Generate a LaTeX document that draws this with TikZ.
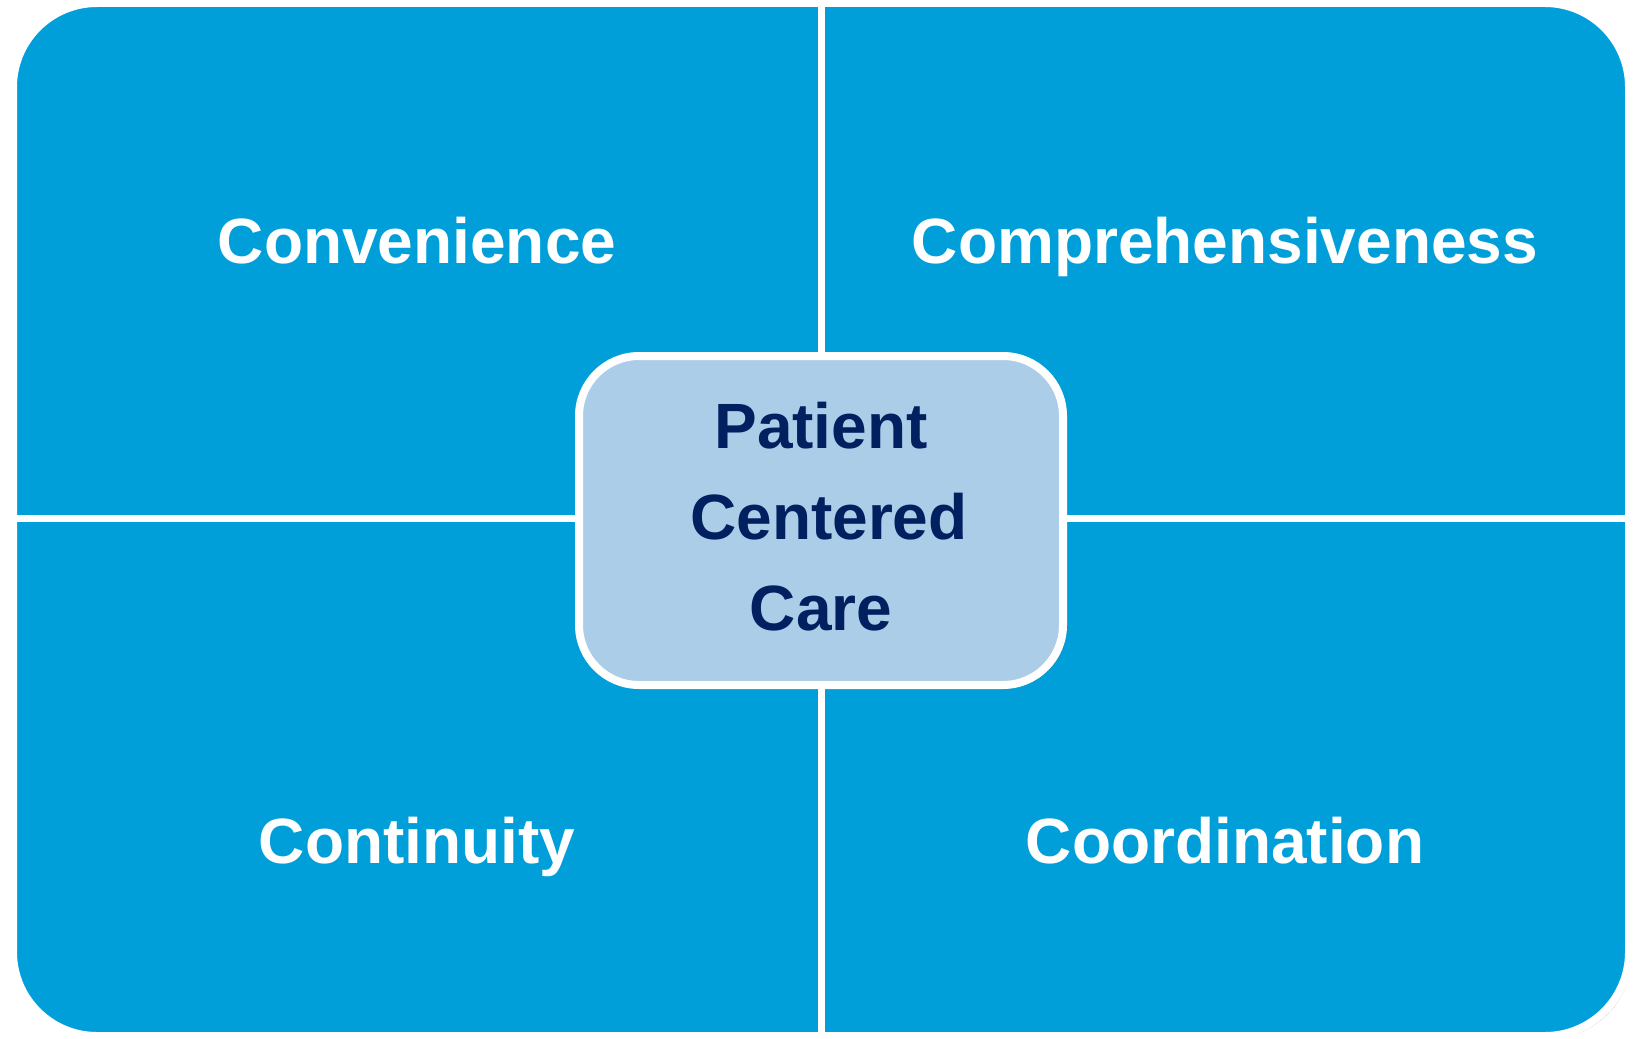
\documentclass[tikz,border=0pt]{standalone}
\usepackage{fontspec}
\setmainfont{Liberation Sans}
\usetikzlibrary{shadows}
\definecolor{quadblue}{HTML}{009FDA}
\definecolor{centerfill}{HTML}{ABCDE8}
\definecolor{navy}{HTML}{002060}
\tikzset{
  quadlabel/.style={text=white, font=\fontsize{32}{38}\selectfont\bfseries, inner sep=0pt, anchor=base},
  centerlabel/.style={text=navy, font=\fontsize{32}{45.5}\selectfont\bfseries, align=center, inner sep=0pt},
  divider/.style={draw=white, line width=3.5pt},
}
\begin{document}
\begin{tikzpicture}[x=0.5pt,y=-0.5pt]
\useasboundingbox (0,0) rectangle (1636,1038);
% outer matrix
\path[fill=quadblue, draw=white, line width=4pt, rounded corners=42pt,
      drop shadow={shadow xshift=1.5pt, shadow yshift=-1.5pt, opacity=0.25, fill=black}]
  (13,3) rectangle (1629,1036);
% dividers
\coordinate (vt) at (821,7);
\coordinate (vb) at (821,1032);
\coordinate (hl) at (17,518);
\coordinate (hr) at (1625,518);
\draw[divider] (vt) -- (vb);
\draw[divider] (hl) -- (hr);
% quadrant labels
\node[quadlabel] (conv) at (417,263) {Convenience};
\node[quadlabel] (comp) at (1225,263) {Comprehensiveness};
\node[quadlabel] (cont) at (417,863) {Continuity};
\node[quadlabel] (coord) at (1225,863) {Coordination};
% centre box
\path[fill=centerfill, draw=white, line width=4pt, rounded corners=30pt,
      drop shadow={shadow xshift=1.5pt, shadow yshift=-1.5pt, opacity=0.3, fill=black}]
  (579,356) rectangle (1063,685);
\node[centerlabel] (pcc) at (821,517) {Patient\\\hspace*{8pt}Centered\\Care};
\end{tikzpicture}
\end{document}
